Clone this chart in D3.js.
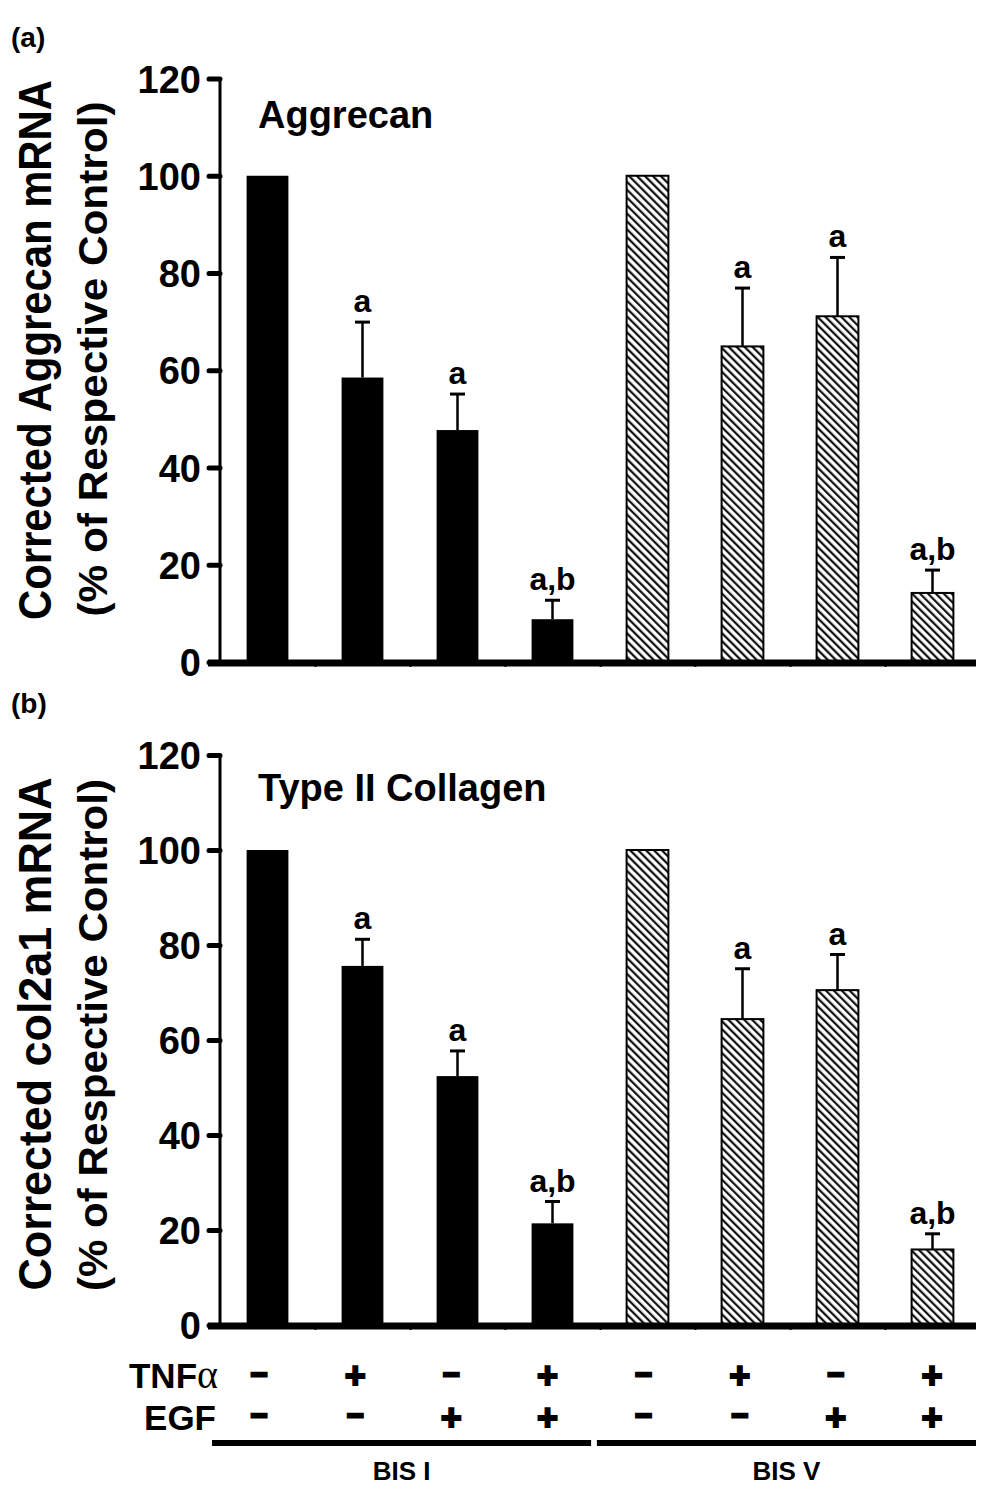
<!DOCTYPE html>
<html>
<head>
<meta charset="utf-8">
<script src="https://cdn.jsdelivr.net/npm/d3@7"></script>
<style>
  body { margin: 0; background: #fff; }
  svg { display: block; }
  text { font-family: "Liberation Sans", Arial, sans-serif; font-weight: bold; fill: #000; }
</style>
</head>
<body>
<script>
// ---------- DATA ----------
const categories = ["I-1", "I-2", "I-3", "I-4", "V-1", "V-2", "V-3", "V-4"];
const groups = ["BIS I", "BIS I", "BIS I", "BIS I", "BIS V", "BIS V", "BIS V", "BIS V"];
const tnfSigns = ["–", "+", "–", "+", "–", "+", "–", "+"];
const egfSigns = ["–", "–", "+", "+", "–", "–", "+", "+"];

const aggrecanMean = [100, 58.5, 47.7, 8.8, 100, 64.9, 71.1, 14.2];
const aggrecanErr  = [0, 11.4, 7.4, 3.9, 0, 12.0, 12.1, 4.7];
const aggrecanSig  = ["", "a", "a", "a,b", "", "a", "a", "a,b"];

const collagenMean = [100, 75.6, 52.4, 21.4, 100, 64.4, 70.5, 15.9];
const collagenErr  = [0, 5.6, 5.3, 4.6, 0, 10.6, 7.5, 3.3];
const collagenSig  = ["", "a", "a", "a,b", "", "a", "a", "a,b"];

const yTicks = [0, 20, 40, 60, 80, 100, 120];

// ---------- SETUP ----------
const W = 1004, H = 1492;
const svg = d3.select("body").append("svg").attr("width", W).attr("height", H);

const defs = svg.append("defs");
const pat = defs.append("pattern")
  .attr("id", "hatch")
  .attr("patternUnits", "userSpaceOnUse")
  .attr("width", 5.6).attr("height", 5.6)
  .attr("patternTransform", "rotate(-45)");
pat.append("rect").attr("width", 5.6).attr("height", 5.6).attr("fill", "#fff");
pat.append("line").attr("x1", 1.2).attr("y1", -1).attr("x2", 1.2).attr("y2", 7)
  .attr("stroke", "#000").attr("stroke-width", 2.1);

const x = d3.scaleBand().domain(categories).range([220, 980])
  .paddingInner(0.56).paddingOuter(0.28);

function panel(opts) {
  const { y0, y1, mean, err, sig, title, letter, letterY, titleY, lab1, lab2 } = opts;
  const y = d3.scaleLinear().domain([0, 120]).range([y0, y1]);
  const g = svg.append("g");

  // bars
  g.selectAll("rect.bar").data(categories).enter().append("rect")
    .attr("class", "bar")
    .attr("x", d => x(d))
    .attr("width", x.bandwidth())
    .attr("y", (d, i) => y(mean[i]))
    .attr("height", (d, i) => y(0) - y(mean[i]))
    .attr("fill", (d, i) => groups[i] === "BIS I" ? "#000" : "url(#hatch)")
    .attr("stroke", "#000")
    .attr("stroke-width", (d, i) => groups[i] === "BIS I" ? 0 : 2);

  // error bars (upper only)
  const eb = g.selectAll("g.eb").data(categories.filter((d, i) => err[i] > 0)).enter().append("g");
  eb.append("line")
    .attr("x1", d => x(d) + x.bandwidth() / 2)
    .attr("x2", d => x(d) + x.bandwidth() / 2)
    .attr("y1", d => y(mean[categories.indexOf(d)]))
    .attr("y2", d => { const i = categories.indexOf(d); return y(mean[i] + err[i]); })
    .attr("stroke", "#000").attr("stroke-width", 2.5);
  eb.append("line")
    .attr("x1", d => x(d) + x.bandwidth() / 2 - 7.5)
    .attr("x2", d => x(d) + x.bandwidth() / 2 + 7.5)
    .attr("y1", d => { const i = categories.indexOf(d); return y(mean[i] + err[i]); })
    .attr("y2", d => { const i = categories.indexOf(d); return y(mean[i] + err[i]); })
    .attr("stroke", "#000").attr("stroke-width", 3);

  // significance labels
  g.selectAll("text.sig").data(categories).enter().append("text")
    .attr("class", "sig")
    .attr("x", d => x(d) + x.bandwidth() / 2)
    .attr("y", (d, i) => y(mean[i] + err[i]) - 10)
    .attr("text-anchor", "middle")
    .attr("font-size", 32)
    .text((d, i) => sig[i]);

  // y axis
  const yAxis = d3.axisLeft(y).tickValues(yTicks).tickSize(11).tickPadding(8);
  const ya = g.append("g").attr("transform", "translate(220,0)").call(yAxis);
  ya.select(".domain").attr("stroke-width", 3).attr("d", `M0,${y(120)}V${y(0)}`);
  ya.selectAll(".tick line").attr("stroke-width", 5).attr("stroke-linecap", "round");
  ya.selectAll(".tick text")
    .attr("font-size", 38).attr("font-family", "Liberation Sans, Arial, sans-serif")
    .attr("font-weight", "bold").attr("fill", "#000").attr("dy", "0.36em");

  // x axis (thick baseline with tiny ticks)
  const xTickScale = d3.scaleLinear().domain([0, 8]).range([220, 980]);
  const xa = g.append("g").attr("transform", `translate(0,${y(0) + 1})`)
    .call(d3.axisBottom(xTickScale).tickValues(d3.range(1, 8)).tickSize(4).tickFormat(""));
  xa.select(".domain").attr("d", `M208,0H976`).attr("stroke-width", 7);
  xa.selectAll(".tick line").attr("stroke-width", 2);

  // title
  g.append("text").attr("x", 258).attr("y", titleY).attr("font-size", 38).text(title);
  // panel letter
  g.append("text").attr("x", 11).attr("y", letterY).attr("font-size", 28).text(letter);

  // y labels
  g.append("text")
    .attr("transform", `translate(51,${lab1.cy}) rotate(-90)`)
    .attr("text-anchor", "middle").attr("font-size", 46)
    .attr("textLength", lab1.len).attr("lengthAdjust", "spacingAndGlyphs")
    .text(lab1.text);
  g.append("text")
    .attr("transform", `translate(107,${lab2.cy}) rotate(-90)`)
    .attr("text-anchor", "middle").attr("font-size", 40)
    .attr("textLength", lab2.len).attr("lengthAdjust", "spacingAndGlyphs")
    .text(lab2.text);
}

panel({
  y0: 662, y1: 78.5,
  mean: aggrecanMean, err: aggrecanErr, sig: aggrecanSig,
  title: "Aggrecan", titleY: 128, letter: "(a)", letterY: 47,
  lab1: { text: "Corrected Aggrecan mRNA", cy: 350, len: 540 },
  lab2: { text: "(% of Respective Control)", cy: 359, len: 515 }
});
panel({
  y0: 1325, y1: 755,
  mean: collagenMean, err: collagenErr, sig: collagenSig,
  title: "Type II Collagen", titleY: 801, letter: "(b)", letterY: 713,
  lab1: { text: "Corrected col2a1 mRNA", cy: 1034, len: 513 },
  lab2: { text: "(% of Respective Control)", cy: 1035, len: 512 }
});

// ---------- treatment table ----------
const tx = d3.scaleBand().domain(categories).range([211, 980]);
const tbl = svg.append("g");

const tnf = tbl.append("text").attr("x", 218).attr("y", 1388).attr("text-anchor", "end").attr("font-size", 35);
tnf.append("tspan").text("TNF");
tnf.append("tspan").attr("font-family", "Liberation Serif, Times New Roman, serif")
  .attr("font-weight", "normal").attr("font-size", 40).text("α");
tbl.append("text").attr("x", 216).attr("y", 1430).attr("text-anchor", "end").attr("font-size", 35).text("EGF");

function signRow(signs, yPlus, yMinus) {
  tbl.selectAll(null).data(categories).enter().append("text")
    .attr("x", d => tx(d) + tx.bandwidth() / 2)
    .attr("y", (d, i) => signs[i] === "+" ? yPlus : yMinus)
    .attr("text-anchor", "middle")
    .attr("font-size", (d, i) => signs[i] === "+" ? 36 : 28)
    .attr("stroke", "#000")
    .attr("stroke-width", (d, i) => signs[i] === "+" ? 2 : 3.2)
    .text((d, i) => signs[i]);
}
signRow(tnfSigns, 1388, 1382);
signRow(egfSigns, 1430, 1423);

// group lines and labels
const groupNames = ["BIS I", "BIS V"];
const gx = d3.scaleBand().domain(groupNames).range([212, 976]).paddingInner(0.015);
tbl.selectAll("line.grp").data(groupNames).enter().append("line")
  .attr("x1", d => gx(d)).attr("x2", d => gx(d) + gx.bandwidth())
  .attr("y1", 1443).attr("y2", 1443)
  .attr("stroke", "#000").attr("stroke-width", 6);
tbl.selectAll("text.grp").data(groupNames).enter().append("text")
  .attr("x", d => gx(d) + gx.bandwidth() / 2)
  .attr("y", 1480).attr("text-anchor", "middle").attr("font-size", 26)
  .text(d => d);
</script>
</body>
</html>
